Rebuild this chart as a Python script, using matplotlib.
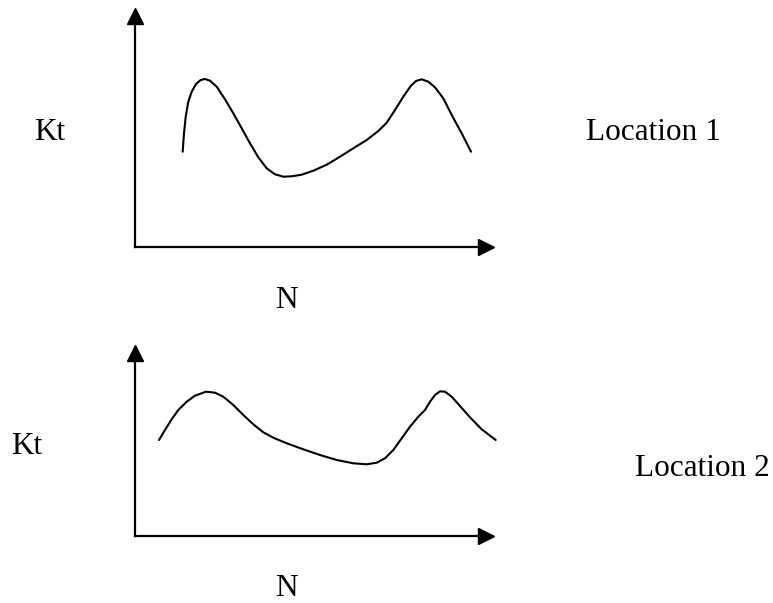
import matplotlib.pyplot as plt

# curve points (N, Kt), origin at the axes corner
n1 = [48, 49.3, 51, 53.6, 57, 61.3, 66, 70.3, 75.3, 82, 90.3, 98.6, 107, 115.3,
      123.6, 132, 140.3, 148.6, 157, 167, 178.6, 192, 205.3, 218.6, 232, 243.6,
      252, 260.3, 268.6, 276, 281.3, 287, 293.6, 300.3, 308.6, 317, 327, 336.3]
kt1 = [95.3, 113.7, 130.3, 145.3, 155.3, 163, 167, 168, 166.3, 160.3, 147.7, 133.7,
       118.7, 103.7, 89.7, 78.7, 72.7, 70.3, 70.7, 72.3, 76.3, 82.3, 90.3, 98.7,
       107, 116, 124.3, 137, 150.3, 161, 166, 167.7, 165.3, 159.7, 148.7, 132,
       113.7, 95.3]

n2 = [24.3, 30.3, 37, 43.6, 52, 60.3, 71.3, 80.3, 88.6, 98.6, 108.6, 118.6, 128.6,
      138.6, 152, 168.6, 185.3, 202, 218.6, 232, 242, 250.3, 258.6, 267, 275.3,
      283.6, 290.3, 295.3, 300.3, 305.3, 310.3, 317, 325.3, 335.3, 347, 361]
kt2 = [96, 106, 116.7, 126, 134.3, 140.3, 144.3, 143.3, 139.3, 131, 121, 111.7,
       103.7, 98.3, 92.7, 86.7, 81, 76, 72.7, 71.7, 73.3, 77.7, 86,
       97.7, 109.3, 119.3, 126, 134.3, 141, 144.7, 144.3, 139.3, 130, 118.7,
       106.7, 96]

labels = ["Location 1", "Location 2"]

fig = plt.figure(figsize=(7.73, 6.03), dpi=100)
plt.rcParams['font.family'] = ['Liberation Serif', 'DejaVu Serif']

W, H = 773, 603
# origin x, origin y, axes height, Kt label pos, location label pos (pixels)
panels = [
    (134.7, 247, 231, (50, 132), (653, 132), n1, kt1),
    (134.7, 536, 183, (27, 446), (702, 468), n2, kt2),
]

for (x0, y0, ax_h, kt_pos, loc_pos, n, kt), lab in zip(panels, labels):
    ax_w = 351
    ax = fig.add_axes([x0 / W, 1 - y0 / H, ax_w / W, ax_h / H])
    ax.plot(n, kt, color="black", lw=1.5, clip_on=False,
            solid_joinstyle="round", solid_capstyle="round")
    ax.set_xlim(0, ax_w)
    ax.set_ylim(0, ax_h)
    for s in ["top", "right"]:
        ax.spines[s].set_visible(False)
    for s in ["left", "bottom"]:
        ax.spines[s].set_linewidth(1.6)
    ax.set_xticks([])
    ax.set_yticks([])
    # arrow heads
    ax.plot(1, 0, ">k", ms=11, transform=ax.transAxes, clip_on=False)
    ax.plot(0, 1, "^k", ms=11, transform=ax.transAxes, clip_on=False)

    fig.text(kt_pos[0] / W, 1 - kt_pos[1] / H, "Kt", fontsize=22.5, ha="center", va="center")
    fig.text(286 / W, 1 - (y0 + 53) / H, "N", fontsize=22.5, ha="center", va="center")
    fig.text(loc_pos[0] / W, 1 - loc_pos[1] / H, lab, fontsize=22.5, ha="center", va="center")

plt.savefig("out.png", dpi=100)
